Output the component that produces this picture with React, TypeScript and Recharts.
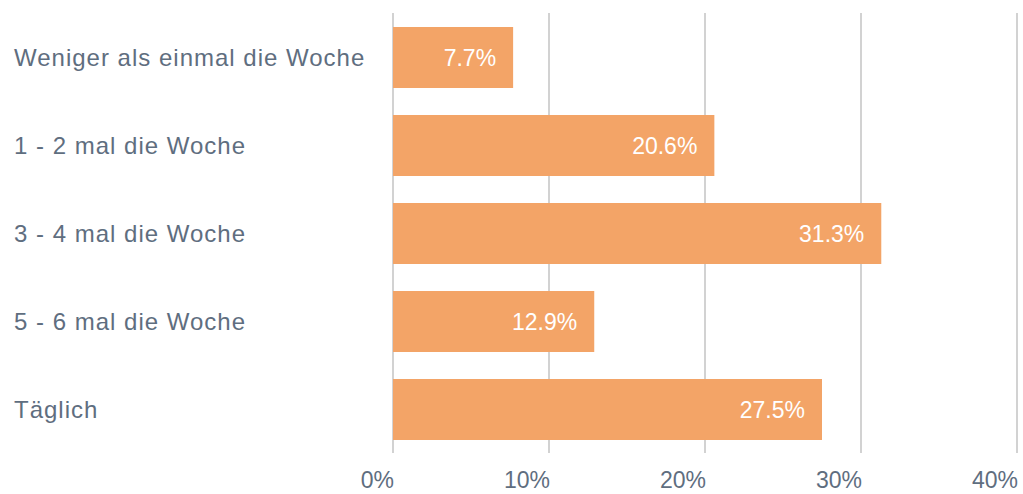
import React from "react";
import { BarChart, Bar, XAxis, YAxis, CartesianGrid, LabelList } from "recharts";

const categories = [
  "Weniger als einmal die Woche",
  "1 - 2 mal die Woche",
  "3 - 4 mal die Woche",
  "5 - 6 mal die Woche",
  "Täglich",
];
const shares = [7.7, 20.6, 31.3, 12.9, 27.5];
const xTicks = [0, 10, 20, 30, 40];

const data = categories.map((c, i) => ({ name: c, value: shares[i] }));

const FONT = "'Liberation Sans', Arial, sans-serif";
const LABEL_COLOR = "#5f6e7f";

const YTick = (props: any) => {
  const { y, payload } = props;
  return (
    <text
      x={14}
      y={y}
      dy="0.36em"
      textAnchor="start"
      fontFamily={FONT}
      fontSize={24}
      letterSpacing={1}
      fill={LABEL_COLOR}
    >
      {payload.value}
    </text>
  );
};

const XTick = (props: any) => {
  const { x, y, payload } = props;
  return (
    <text
      x={x + 1}
      y={y + 35}
      textAnchor="end"
      fontFamily={FONT}
      fontSize={23}
      fill={LABEL_COLOR}
    >
      {payload.value + "%"}
    </text>
  );
};

export default function App() {
  return (
    <div style={{ position: "absolute", left: 0, top: 0 }}>
      <BarChart
        width={1023}
        height={494}
        data={data}
        layout="vertical"
        margin={{ top: 13, right: 6, left: 0, bottom: 0 }}
      >
        <CartesianGrid horizontal={false} vertical stroke="#d2d2d2" strokeWidth={2} />
        <XAxis
          type="number"
          domain={[0, 40]}
          ticks={xTicks}
          axisLine={false}
          tickLine={false}
          tickSize={0}
          tickMargin={0}
          height={41}
          tick={<XTick />}
          interval={0}
        />
        <YAxis
          type="category"
          dataKey="name"
          width={393}
          axisLine={false}
          tickLine={false}
          tick={<YTick />}
          interval={0}
        />
        <Bar dataKey="value" fill="#f3a467" barSize={61} isAnimationActive={false}>
          <LabelList
            dataKey="value"
            position="insideRight"
            offset={17}
            formatter={(v: any) => v.toFixed(1) + "%"}
            fill="#ffffff"
            fontFamily={FONT}
            fontSize={23}
          />
        </Bar>
      </BarChart>
    </div>
  );
}
